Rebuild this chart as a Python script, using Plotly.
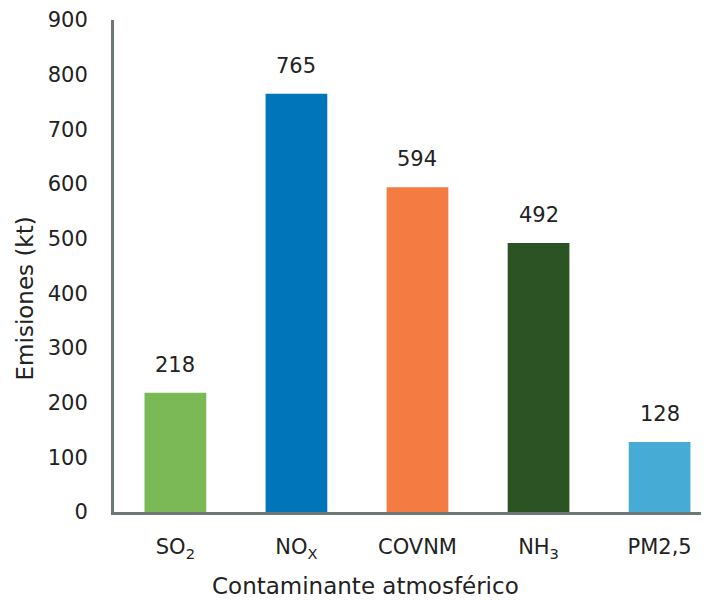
import plotly.graph_objects as go

categories = ["SO<sub>2</sub>", "NO<sub>X</sub>", "COVNM", "NH<sub>3</sub>", "PM2,5"]
values = [218, 765, 594, 492, 128]
colors = ["#7ab955", "#0075ba", "#f47b42", "#2c5323", "#46acd6"]
y_ticks = [0, 100, 200, 300, 400, 500, 600, 700, 800, 900]
x_title = "Contaminante atmosférico"
y_title = "Emisiones (kt)"

font_family = "DejaVu Sans"
font_size = 21
title_size = 23
text_color = "#222222"

fig = go.Figure()
fig.add_trace(go.Bar(
    x=list(range(len(categories))),
    y=values,
    marker=dict(color=colors, line=dict(width=0)),
    width=0.51,
    hoverinfo="skip",
))

for i, v in enumerate(values):
    fig.add_annotation(
        x=i, y=v, text=str(v), showarrow=False,
        yanchor="bottom", yshift=14,
        font=dict(family=font_family, size=font_size, color=text_color),
    )

# axis titles (placed as annotations to match the reference's offsets)
fig.add_annotation(
    xref="paper", yref="paper", x=0.4235, y=-0.1781,
    text=x_title, showarrow=False, xanchor="center", yanchor="bottom",
    borderpad=0,
    font=dict(family=font_family, size=title_size, color=text_color),
)
fig.add_annotation(
    xref="paper", yref="paper", x=-0.148, y=0.434,
    text=y_title, showarrow=False, textangle=-90,
    xanchor="center", yanchor="middle",
    font=dict(family=font_family, size=title_size, color=text_color),
)

fig.update_layout(
    width=701, height=592,
    margin=dict(l=106, r=0, t=10, b=88),
    paper_bgcolor="white", plot_bgcolor="white",
    showlegend=False,
    font=dict(family=font_family, size=font_size, color=text_color),
    xaxis=dict(
        range=[-0.507, 4.408],
        tickmode="array",
        tickvals=list(range(len(categories))),
        ticktext=categories,
        showgrid=False, zeroline=False,
        showline=True, linecolor="#6e7678", linewidth=3,
        ticks="", ticklabelstandoff=14,
        tickfont=dict(family=font_family, size=font_size, color=text_color),
    ),
    yaxis=dict(
        range=[0, 900],
        tickmode="array",
        tickvals=y_ticks,
        showgrid=False, zeroline=False,
        showline=True, linecolor="#6e7678", linewidth=3,
        ticks="", ticklabelstandoff=19,
        ticklabeloverflow="allow",
        tickfont=dict(family=font_family, size=font_size, color=text_color),
    ),
)

fig.write_html("out.html")
